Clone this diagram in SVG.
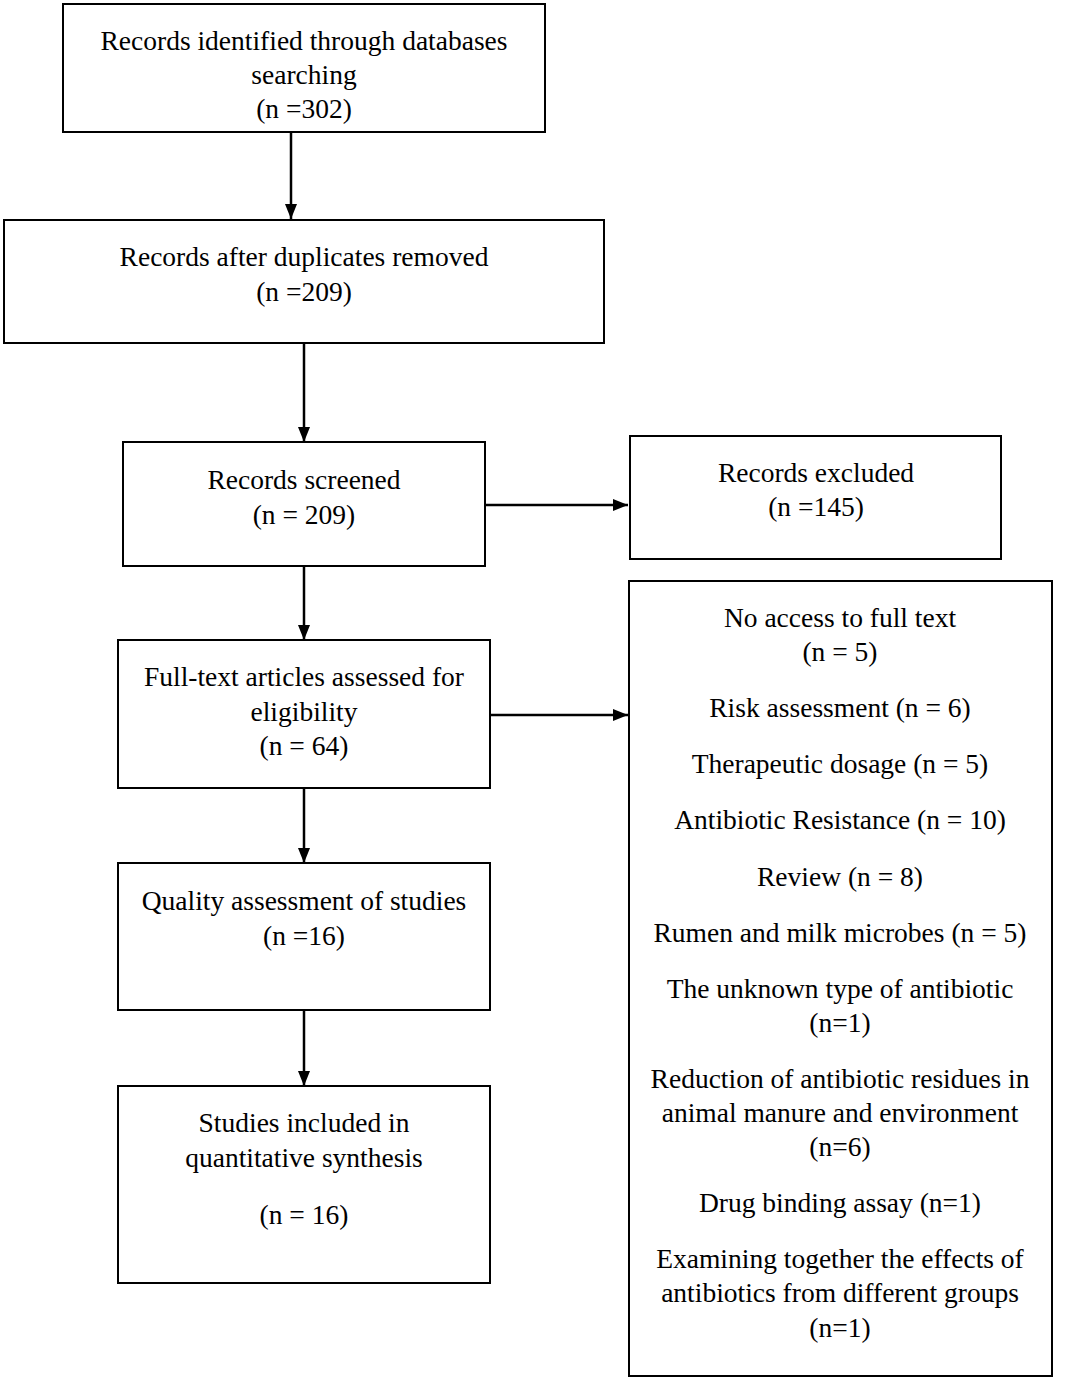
<svg xmlns="http://www.w3.org/2000/svg" width="1065" height="1381" viewBox="0 0 1065 1381">
<style>
rect{fill:#fff;stroke:#000;stroke-width:2}
text{font-family:"Liberation Serif","Times New Roman",serif;font-size:27.5px;fill:#000;text-anchor:middle}
.c line{stroke:#000;stroke-width:2.5}
</style>
<defs>
<marker id="ah" viewBox="0 0 15 12" refX="15" refY="6" markerWidth="15" markerHeight="12" markerUnits="userSpaceOnUse" orient="auto"><path d="M0,0L15,6L0,12Z" fill="#000"/></marker>
</defs>
<rect x="0" y="0" width="1065" height="1381" style="stroke:none"/>
<g class="c">
<line x1="291" y1="132" x2="291" y2="219" marker-end="url(#ah)"/>
<line x1="304" y1="343" x2="304" y2="442" marker-end="url(#ah)"/>
<line x1="485" y1="505" x2="628" y2="505" marker-end="url(#ah)"/>
<line x1="304" y1="566" x2="304" y2="640" marker-end="url(#ah)"/>
<line x1="490" y1="715" x2="628" y2="715" marker-end="url(#ah)"/>
<line x1="304" y1="788" x2="304" y2="863" marker-end="url(#ah)"/>
<line x1="304" y1="1010" x2="304" y2="1086" marker-end="url(#ah)"/>
</g>
<g id="n1"><rect x="63" y="4" width="482" height="128"/>
<text x="304" y="50">Records identified through databases</text>
<text x="304" y="84">searching</text>
<text x="304" y="118">(n =302)</text></g>
<g id="n2"><rect x="4" y="220" width="600" height="123"/>
<text x="304" y="266">Records after duplicates removed</text>
<text x="304" y="301">(n =209)</text></g>
<g id="n3"><rect x="123" y="442" width="362" height="124"/>
<text x="304" y="489">Records screened</text>
<text x="304" y="524">(n = 209)</text></g>
<g id="n4"><rect x="630" y="436" width="371" height="123"/>
<text x="816" y="482">Records excluded</text>
<text x="816" y="516">(n =145)</text></g>
<g id="n5"><rect x="118" y="640" width="372" height="148"/>
<text x="304" y="686">Full-text articles assessed for</text>
<text x="304" y="721">eligibility</text>
<text x="304" y="755">(n = 64)</text></g>
<g id="n6"><rect x="629" y="581" width="423" height="795"/>
<text x="840" y="627">No access to full text</text>
<text x="840" y="661">(n = 5)</text>
<text x="840" y="717">Risk assessment (n = 6)</text>
<text x="840" y="773">Therapeutic dosage (n = 5)</text>
<text x="840" y="829">Antibiotic Resistance (n = 10)</text>
<text x="840" y="886">Review (n = 8)</text>
<text x="840" y="942">Rumen and milk microbes (n = 5)</text>
<text x="840" y="998">The unknown type of antibiotic</text>
<text x="840" y="1032">(n=1)</text>
<text x="840" y="1088">Reduction of antibiotic residues in</text>
<text x="840" y="1122">animal manure and environment</text>
<text x="840" y="1156">(n=6)</text>
<text x="840" y="1212">Drug binding assay (n=1)</text>
<text x="840" y="1268">Examining together the effects of</text>
<text x="840" y="1302">antibiotics from different groups</text>
<text x="840" y="1337">(n=1)</text></g>
<g id="n7"><rect x="118" y="863" width="372" height="147"/>
<text x="304" y="910">Quality assessment of studies</text>
<text x="304" y="945">(n =16)</text></g>
<g id="n8"><rect x="118" y="1086" width="372" height="197"/>
<text x="304" y="1132">Studies included in</text>
<text x="304" y="1167">quantitative synthesis</text>
<text x="304" y="1224">(n = 16)</text></g>
</svg>
